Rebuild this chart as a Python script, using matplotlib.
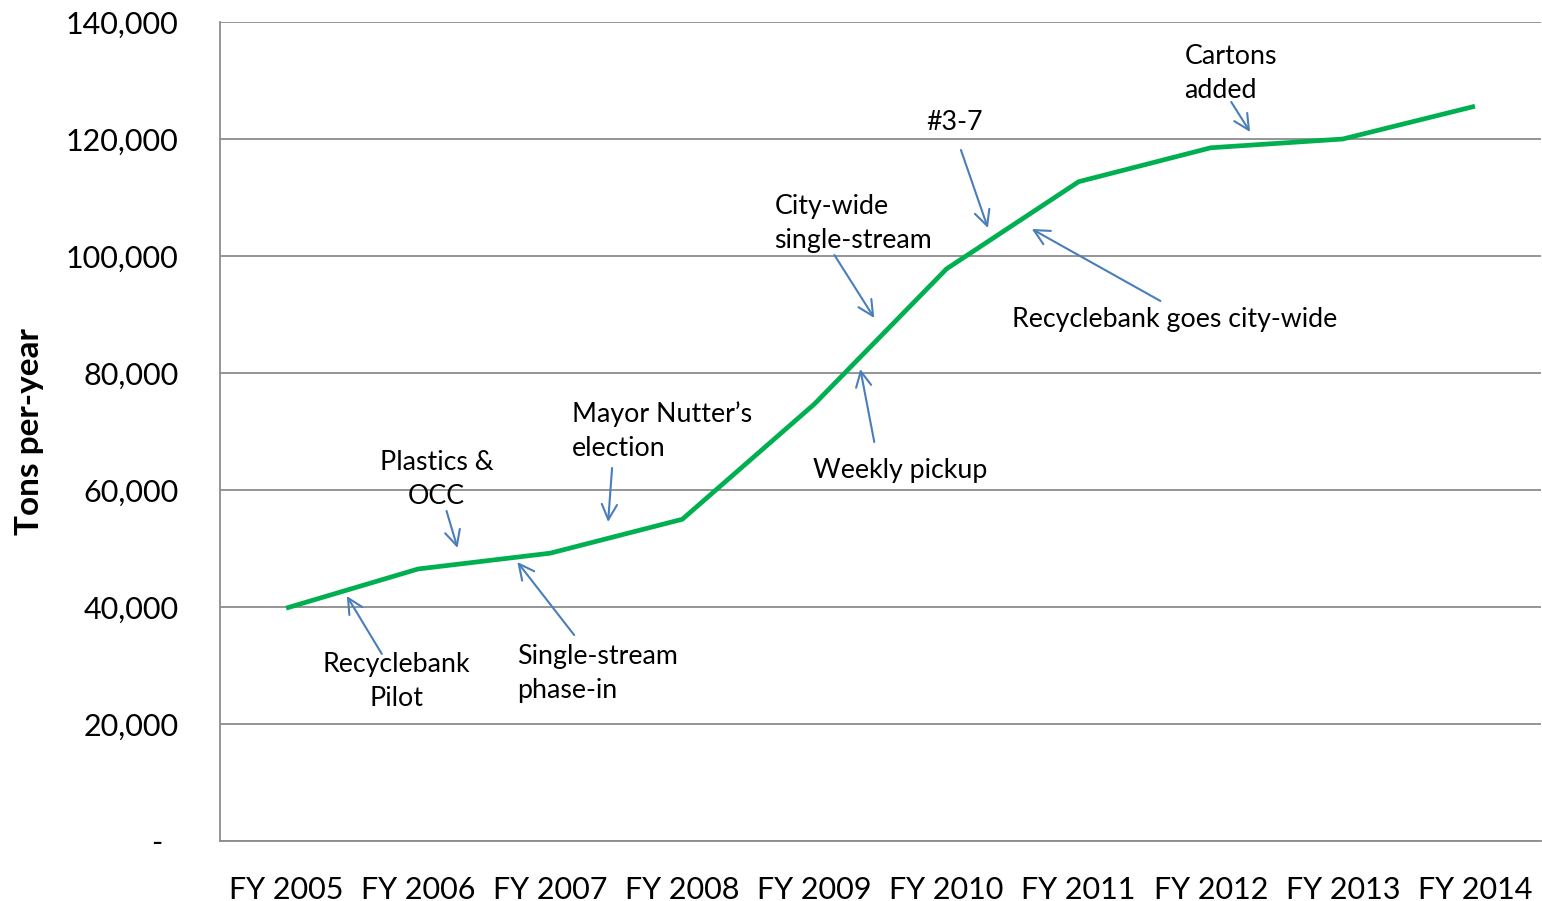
import matplotlib
matplotlib.use("Agg")
import matplotlib.pyplot as plt
from matplotlib.ticker import FuncFormatter

plt.rcParams["font.family"] = ["Lato", "DejaVu Sans"]

YEARS = ["FY 2005", "FY 2006", "FY 2007", "FY 2008", "FY 2009",
         "FY 2010", "FY 2011", "FY 2012", "FY 2013", "FY 2014"]
TONS = [39800, 46500, 49200, 55000, 74700, 97800, 112700, 118500, 120000, 125600]

# label, text position, alignment, arrow tail, arrow tip
NOTES = [
    ("Recyclebank\nPilot", (0.838, 27200), "center", (0.725, 31970), (0.46, 41880)),
    ("Plastics &\nOCC", (1.14, 61800), "center", (1.215, 56410), (1.298, 50090)),
    ("Single-stream\nphase-in", (1.751, 28630), "left", (2.181, 35210), (1.751, 47690)),
    ("Mayor Nutter\u2019s\nelection", (2.166, 70000), "left", (2.468, 63760), (2.438, 54530)),
    ("Weekly pickup", (3.992, 63250), "left", (4.453, 68200), (4.347, 80680)),
    ("City-wide\nsingle-stream", (3.698, 105560), "left", (4.151, 100170), (4.453, 89400)),
    ("#3-7", (4.845, 122740), "left", (5.109, 118120), (5.313, 104790)),
    ("Recyclebank goes city-wide", (5.494, 89060), "left", (6.619, 92310), (5.645, 104620)),
    ("Cartons\nadded", (6.80, 131200), "left", (7.155, 126330), (7.298, 121200)),
]

GREEN = "#00b050"
ARROW = "#4a7ebb"
GRID = "#8c8c8c"

fig = plt.figure(figsize=(15.42, 9.01), dpi=100)
ax = fig.add_axes([220 / 1542, 60 / 901, 1321 / 1542, 819 / 901])

x = list(range(len(YEARS)))
ax.plot(x, TONS, color=GREEN, lw=3.4, solid_capstyle="butt", zorder=3)

for label, pos, ha, tail, tip in NOTES:
    ax.annotate("", xy=tip, xytext=tail,
                arrowprops=dict(arrowstyle="->,head_length=1.1,head_width=0.55",
                                color=ARROW, lw=1.5, shrinkA=0, shrinkB=0))
    ax.text(pos[0], pos[1], label, ha=ha, va="center", fontsize=19.3,
            linespacing=1.45, color="black", multialignment=ha)

ax.set_xlim(-0.5, 9.5)
ax.set_ylim(0, 140000)
ax.set_yticks(range(0, 140001, 20000))
ax.yaxis.set_major_formatter(FuncFormatter(lambda v, p: f"{int(v):,}" if v else "-  "))
ax.set_xticks(x)
ax.set_xticklabels(YEARS)
ax.tick_params(axis="both", length=0, labelsize=22)
ax.tick_params(axis="x", pad=25)
ax.tick_params(axis="y", pad=30)

ax.grid(axis="y", color=GRID, lw=1.3)
ax.set_axisbelow(True)
for side in ["top", "right"]:
    ax.spines[side].set_visible(False)
for side in ["left", "bottom"]:
    ax.spines[side].set_color(GRID)
    ax.spines[side].set_linewidth(1.3)

fig.text(30 / 1542, 1 - 432 / 901, "Tons per-year", rotation=90, ha="center",
         va="center", fontsize=24, fontweight="bold")

fig.savefig("out.png", dpi=100)
